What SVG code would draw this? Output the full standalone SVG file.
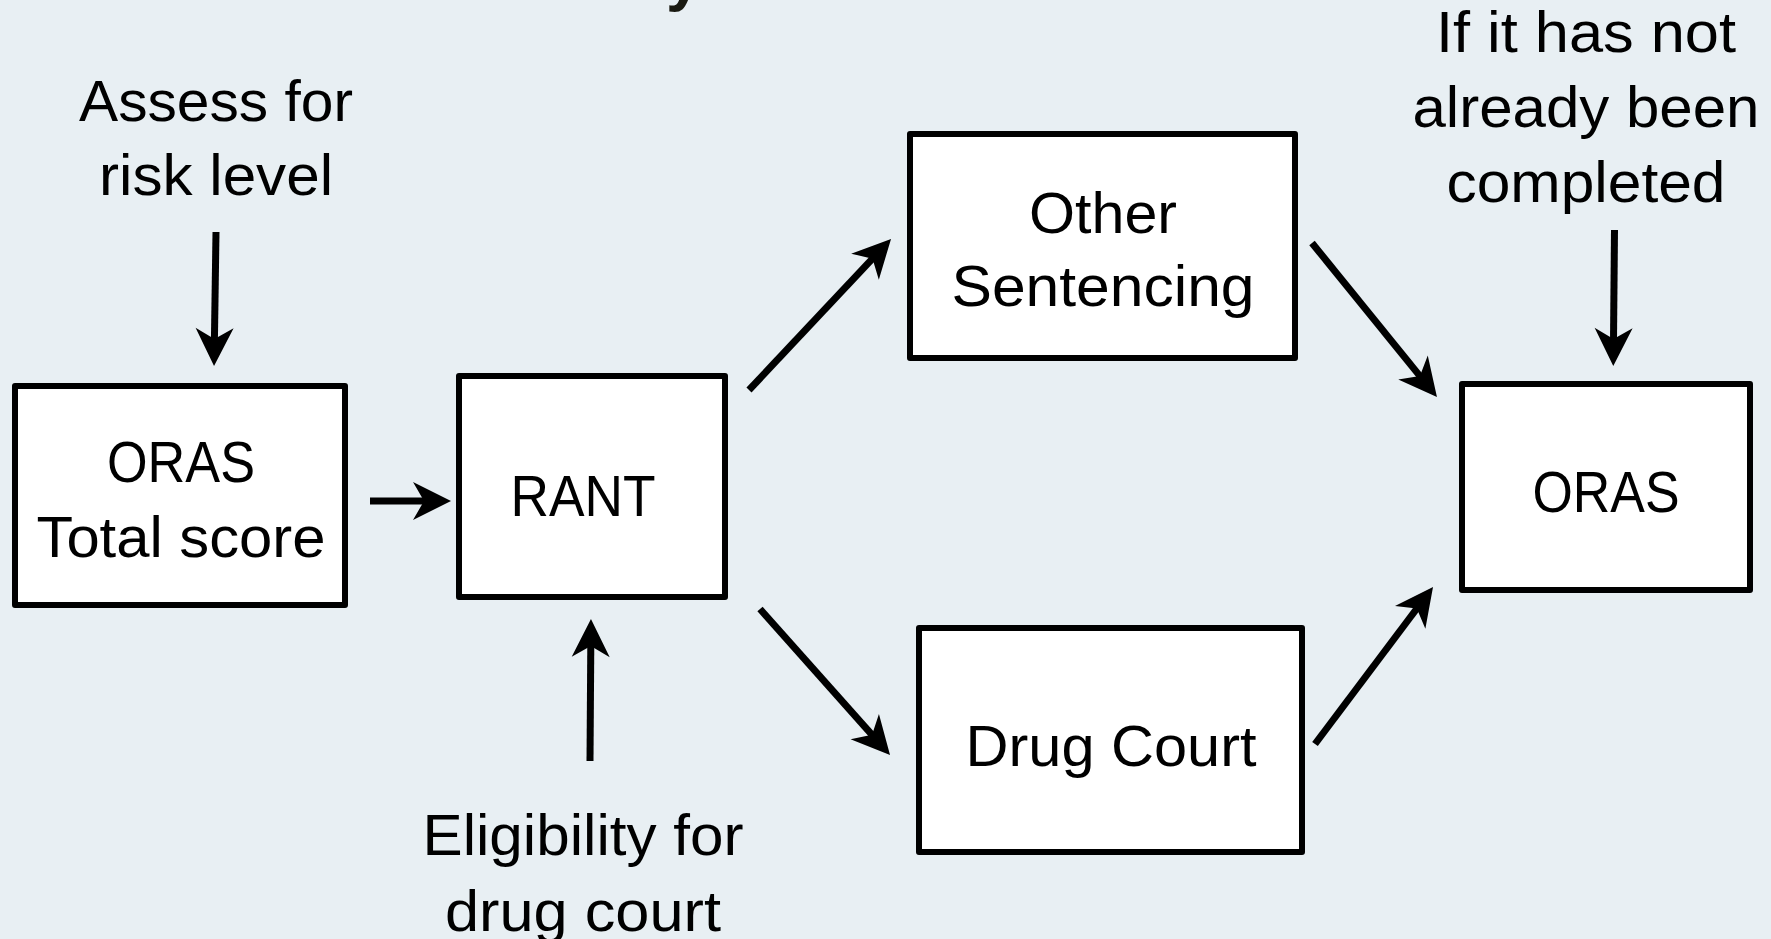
<svg xmlns="http://www.w3.org/2000/svg" width="1771" height="939" viewBox="0 0 1771 939">
<style>
.bg{fill:#E8EFF3}
.box{fill:#FFFFFF;stroke:#000000;stroke-width:6;stroke-linejoin:round}
.t{font-family:"Liberation Sans",Arial,sans-serif;font-size:57px;fill:#000000;text-anchor:middle}
.conn{stroke:#000000;stroke-width:7;fill:none}
.title{font-family:"Liberation Sans",Arial,sans-serif;font-weight:bold;font-size:64px;fill:#1A1A12}
</style>
<defs>
<marker id="ah" markerUnits="userSpaceOnUse" markerWidth="42" markerHeight="42" viewBox="0 -21 42 42" refX="13" refY="0" orient="auto" overflow="visible">
<path d="M0,-19 L38,0 L0,19 L11,0 Z" fill="#000000"/>
</marker>
</defs>
<rect class="bg" x="0" y="0" width="1771" height="939"/>
<text class="title" x="666" y="-1">y</text>

<g id="label-assess">
<text class="t" x="216" y="121" textLength="274" lengthAdjust="spacingAndGlyphs">Assess for</text>
<text class="t" x="216" y="195" textLength="234" lengthAdjust="spacingAndGlyphs">risk level</text>
</g>
<g id="label-ifnot">
<text class="t" x="1586" y="52" textLength="300" lengthAdjust="spacingAndGlyphs">If it has not</text>
<text class="t" x="1586" y="127" textLength="347" lengthAdjust="spacingAndGlyphs">already been</text>
<text class="t" x="1586" y="202" textLength="279" lengthAdjust="spacingAndGlyphs">completed</text>
</g>
<g id="label-eligibility">
<text class="t" x="583" y="855" textLength="321" lengthAdjust="spacingAndGlyphs">Eligibility for</text>
<text class="t" x="583" y="931" textLength="276" lengthAdjust="spacingAndGlyphs">drug court</text>
</g>

<g id="node-oras-total">
<rect class="box" x="15" y="386" width="330" height="219"/>
<text class="t" x="181" y="482" textLength="148" lengthAdjust="spacingAndGlyphs">ORAS</text>
<text class="t" x="181" y="557" textLength="289" lengthAdjust="spacingAndGlyphs">Total score</text>
</g>
<g id="node-rant">
<rect class="box" x="459" y="376" width="266" height="221"/>
<text class="t" x="583" y="516" textLength="145" lengthAdjust="spacingAndGlyphs">RANT</text>
</g>
<g id="node-other">
<rect class="box" x="910" y="134" width="385" height="224"/>
<text class="t" x="1103" y="233" textLength="148" lengthAdjust="spacingAndGlyphs">Other</text>
<text class="t" x="1103" y="306" textLength="303" lengthAdjust="spacingAndGlyphs">Sentencing</text>
</g>
<g id="node-drug">
<rect class="box" x="919" y="628" width="383" height="224"/>
<text class="t" x="1111" y="766" textLength="291" lengthAdjust="spacingAndGlyphs">Drug Court</text>
</g>
<g id="node-oras">
<rect class="box" x="1462" y="384" width="288" height="206"/>
<text class="t" x="1606" y="512" textLength="147" lengthAdjust="spacingAndGlyphs">ORAS</text>
</g>

<g id="connectors">
<line class="conn" x1="216" y1="232" x2="214.4" y2="341" marker-end="url(#ah)"/>
<line class="conn" x1="370" y1="501" x2="426" y2="501" marker-end="url(#ah)"/>
<line class="conn" x1="590" y1="761" x2="590.8" y2="644" marker-end="url(#ah)"/>
<line class="conn" x1="749" y1="390" x2="873.9" y2="257.2" marker-end="url(#ah)"/>
<line class="conn" x1="760" y1="609" x2="873.4" y2="736.3" marker-end="url(#ah)"/>
<line class="conn" x1="1312" y1="243" x2="1421.2" y2="377.6" marker-end="url(#ah)"/>
<line class="conn" x1="1315" y1="744" x2="1418" y2="607" marker-end="url(#ah)"/>
<line class="conn" x1="1614.5" y1="230" x2="1613.5" y2="341" marker-end="url(#ah)"/>
</g>
</svg>
